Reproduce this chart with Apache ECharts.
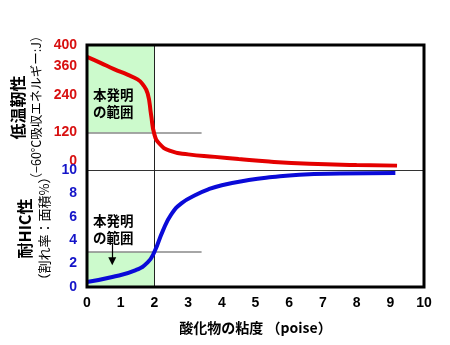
<!DOCTYPE html>
<html><head><meta charset="utf-8">
<script src="https://cdn.jsdelivr.net/npm/echarts@6/dist/echarts.min.js"></script>
<style>html,body{margin:0;padding:0;background:#fff}#c{width:450px;height:345px}</style>
</head><body><div id="c"></div>
<script>
const xTicks = [0,1,2,3,4,5,6,7,8,9,10];
const redTickLabels = [0,120,240,360,400];
const blueTickLabels = [0,2,4,6,8,10];
const redX = [0,0.4,0.8,1.2,1.5,1.65,1.8,1.9,2.0,2.15,2.45,3.0,3.8,4.5,5.4,6.6,8.0,9.2];
const redY = [362,343,323,305,290,275,245,178,114,84,62,50,42,35,27,20,16,14];
const blueX = [0,0.75,1.45,1.8,2.0,2.25,2.5,2.8,3.25,3.6,4.0,4.8,5.5,6.3,7.5,9.15];
const blueY = [0.43,0.85,1.45,2.1,3.0,4.8,6.2,7.15,7.9,8.35,8.7,9.15,9.4,9.6,9.7,9.75];
const redLimit = 120, blueLimit = 3, rangeMax = 2;
const rangeLabel = '本発明\nの範囲';

const jp = '"Noto Sans CJK JP", sans-serif';
const num = '"Liberation Sans", Arial, sans-serif';
const chart = echarts.init(document.getElementById('c'));
chart.setOption({
  animation: false,
  grid: [
    {left: 87, right: 26, top: 45, height: 125},
    {left: 87, right: 26, top: 170, height: 117},
    {left: 87, right: 26, top: 45, height: 242, show: true, borderColor: '#000', borderWidth: 3, backgroundColor: 'transparent', z: 10}
  ],
  xAxis: [
    {gridIndex: 0, type: 'value', min: 0, max: 10, interval: 1,
     axisLine: {show: true, onZero: false, lineStyle: {color: '#333', width: 1.2}},
     axisTick: {show: false}, axisLabel: {show: false}, splitLine: {show: false}},
    {gridIndex: 1, type: 'value', min: 0, max: 10, interval: 1,
     axisLine: {show: false}, axisTick: {show: false}, splitLine: {show: false},
     axisLabel: {fontFamily: num, fontWeight: 'bold', fontSize: 14, color: '#000', margin: 9,
       formatter: v => xTicks.includes(v) ? String(v) : ''},
     name: '酸化物の粘度 （poise）', nameLocation: 'middle', nameGap: 34,
     nameTextStyle: {fontFamily: jp, fontWeight: 'bold', fontSize: 14, color: '#000'}},
    {gridIndex: 2, type: 'value', min: 0, max: 10, show: false}
  ],
  yAxis: [
    {gridIndex: 0, type: 'value', min: 0, max: 400, interval: 40,
     axisLine: {show: false}, axisTick: {show: false}, splitLine: {show: false},
     axisLabel: {fontFamily: num, fontWeight: 'bold', fontSize: 14, color: '#d81010', margin: 10,
       showMinLabel: true, showMaxLabel: true, hideOverlap: false,
       formatter: v => redTickLabels.includes(v) ? (v === 0 ? '{u|0}' : (v === 360 ? '{d|360}' : String(v))) : '',
       rich: {u: {padding: [0, 0, 18, 0], fontFamily: num, fontWeight: 'bold', fontSize: 14, color: '#d81010'},
              d: {padding: [18, 0, 0, 0], fontFamily: num, fontWeight: 'bold', fontSize: 14, color: '#d81010'}}},
     name: '{a|低温靭性}\n{b|（−60℃吸収エネルギー:J）}', nameLocation: 'middle', nameRotate: 90, nameGap: 32,
     nameTextStyle: {rich: {
       a: {fontFamily: jp, fontWeight: 'bold', fontSize: 16, color: '#000', lineHeight: 20},
       b: {fontFamily: jp, fontSize: 12.5, color: '#000', lineHeight: 18}}}},
    {gridIndex: 1, type: 'value', min: 0, max: 10, interval: 2,
     axisLine: {show: false}, axisTick: {show: false}, splitLine: {show: false},
     axisLabel: {fontFamily: num, fontWeight: 'bold', fontSize: 14, color: '#1414c8', margin: 10,
       showMinLabel: true, showMaxLabel: true,
       formatter: v => blueTickLabels.includes(v) ? String(v) : ''},
     name: '{a|耐HIC性}\n{b|（割れ率：面積%）}', nameLocation: 'middle', nameRotate: 90, nameGap: 32,
     nameTextStyle: {rich: {
       a: {fontFamily: jp, fontWeight: 'bold', fontSize: 16, color: '#000', lineHeight: 20},
       b: {fontFamily: jp, fontSize: 13, color: '#000', lineHeight: 18}}}},
    {gridIndex: 2, type: 'value', min: 0, max: 10, show: false}
  ],
  series: [
    {type: 'line', xAxisIndex: 0, yAxisIndex: 0, data: redX.map((x, i) => [x, redY[i]]),
     smooth: 0.5, showSymbol: false, symbol: 'none',
     lineStyle: {color: '#e40000', width: 4}, z: 5,
     markArea: {silent: true, itemStyle: {color: '#ccfacc'},
       data: [[{coord: [0, redLimit]}, {coord: [rangeMax, 400]}]]},
     markLine: {silent: true, symbol: 'none', label: {show: false}, animation: false,
       data: [
         [{coord: [0, redLimit], lineStyle: {color: '#888', width: 1.5, type: 'solid'}}, {coord: [3.4, redLimit]}],
         [{coord: [rangeMax, 0], lineStyle: {color: '#222', width: 1, type: 'solid'}}, {coord: [rangeMax, 400]}]
       ]},
     markPoint: {silent: true, symbol: 'circle', symbolSize: 0,
       label: {show: true, position: 'inside', formatter: rangeLabel, fontFamily: jp, fontWeight: 'bold', fontSize: 13.5, color: '#000', lineHeight: 17, align: 'center'},
       data: [{coord: [0.78, 214]}]}
    },
    {type: 'line', xAxisIndex: 1, yAxisIndex: 1, data: blueX.map((x, i) => [x, blueY[i]]),
     smooth: 0.5, showSymbol: false, symbol: 'none',
     lineStyle: {color: '#0a0ad8', width: 4}, z: 5,
     markArea: {silent: true, itemStyle: {color: '#ccfacc'},
       data: [[{coord: [0, 0]}, {coord: [rangeMax, blueLimit]}]]},
     markLine: {silent: true, symbol: 'none', label: {show: false}, animation: false,
       data: [
         [{coord: [0, blueLimit], lineStyle: {color: '#888', width: 1.5, type: 'solid'}}, {coord: [3.4, blueLimit]}],
         [{coord: [rangeMax, 0], lineStyle: {color: '#222', width: 1, type: 'solid'}}, {coord: [rangeMax, 10]}],
         [{coord: [0.75, 3.7], symbol: 'none', lineStyle: {color: '#000', width: 1.2, type: 'solid'}}, {coord: [0.75, 2.2], symbol: 'triangle', symbolSize: [8, 8], symbolRotate: 180}]
       ]},
     markPoint: {silent: true, symbol: 'circle', symbolSize: 0,
       label: {show: true, position: 'inside', formatter: rangeLabel, fontFamily: jp, fontWeight: 'bold', fontSize: 13.5, color: '#000', lineHeight: 17, align: 'center'},
       data: [{coord: [0.78, 4.9]}]}
    }
  ]
});
</script></body></html>
